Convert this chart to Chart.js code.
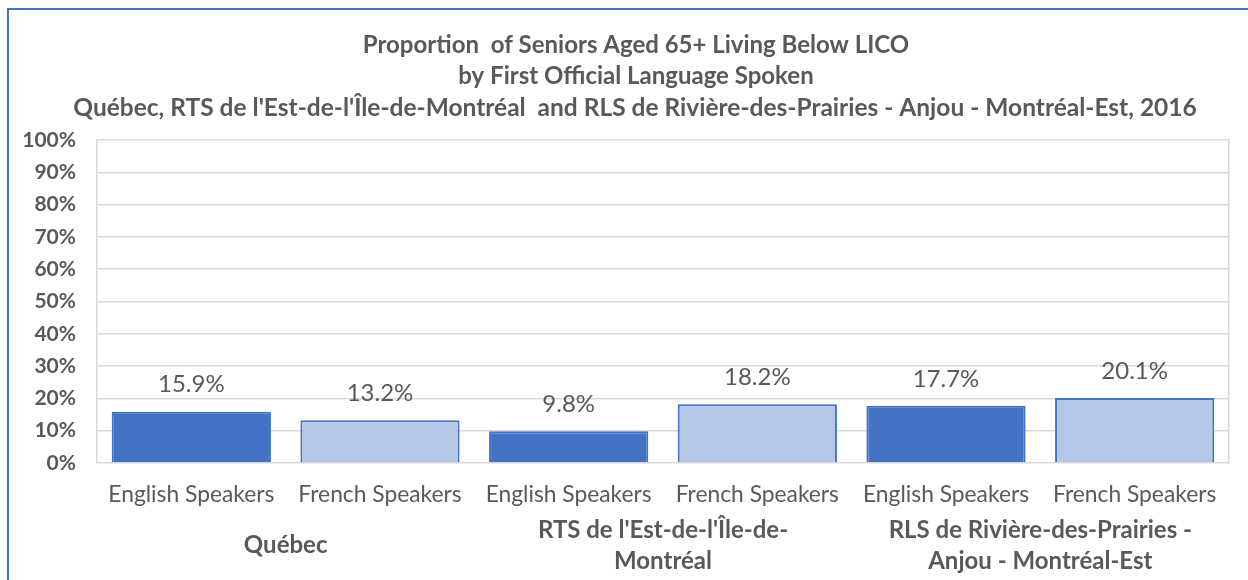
<!DOCTYPE html>
<html>
<head>
<meta charset="utf-8">
<script src="https://cdn.jsdelivr.net/npm/chart.js@4.4.1/dist/chart.umd.min.js"></script>
<style>
  html, body { margin: 0; padding: 0; background: #fff; overflow: hidden; }
  #frame { position: absolute; left: 7px; top: 8px; width: 1260px; height: 590px;
           border-left: 2px solid #4472C4; border-top: 2px solid #4472C4; }
  #wrap { position: absolute; left: 0; top: 0; width: 1248px; height: 580px; }
</style>
</head>
<body>
<div id="frame"></div>
<div id="wrap"><canvas id="grafico" width="1248" height="580"></canvas></div>
<script>
const titleLines = [
  'Proportion  of Seniors Aged 65+ Living Below LICO',
  'by First Official Language Spoken',
  "Québec, RTS de l'Est-de-l'Île-de-Montréal  and RLS de Rivière-des-Prairies - Anjou - Montréal-Est, 2016"
];
const categories = ['English Speakers', 'French Speakers', 'English Speakers', 'French Speakers', 'English Speakers', 'French Speakers'];
const groups = [
  ['Québec'],
  ["RTS de l'Est-de-l'Île-de-", 'Montréal'],
  ['RLS de Rivière-des-Prairies -', 'Anjou - Montréal-Est']
];
const values = [15.9, 13.2, 9.8, 18.2, 17.7, 20.1];
const yTicks = [0, 10, 20, 30, 40, 50, 60, 70, 80, 90, 100];

const FONT = 'Lato, "Open Sans", sans-serif';
const TXT = '#595959';
const DARK = '#4472C4';
const LIGHT = '#B4C7E7';

// título, etiquetas de valor e grupos
const extraLabels = {
  id: 'extraLabels',
  afterDatasetsDraw(chart) {
    const ctx = chart.ctx;
    const meta = chart.getDatasetMeta(0);
    ctx.save();
    ctx.fillStyle = TXT;
    ctx.textAlign = 'center';
    ctx.textBaseline = 'middle';

    ctx.font = 'bold 24px ' + FONT;
    ctx.fillText(titleLines[0], 636, 45);
    ctx.fillText(titleLines[1], 636, 76);
    ctx.font = 'bold 24.5px ' + FONT;
    ctx.fillText(titleLines[2], 635, 108);

    ctx.font = '24px ' + FONT;
    meta.data.forEach((bar, i) => {
      ctx.fillText(values[i].toFixed(1) + '%', bar.x, bar.y - 27);
    });

    const xs = chart.scales.x;
    ctx.font = 'bold 24px ' + FONT;
    groups.forEach((g, i) => {
      const cx = (xs.getPixelForValue(i * 2) + xs.getPixelForValue(i * 2 + 1)) / 2;
      if (g.length === 1) {
        ctx.fillText(g[0], cx, 545);
      } else {
        g.forEach((line, j) => ctx.fillText(line, cx, 530 + j * 31));
      }
    });
    ctx.restore();
  }
};

new Chart(document.getElementById('grafico'), {
  type: 'bar',
  data: {
    labels: categories,
    datasets: [{
      data: values,
      backgroundColor: values.map((v, i) => i % 2 === 0 ? DARK : LIGHT),
      borderColor: DARK,
      borderWidth: 2,
      barPercentage: 0.844,
      categoryPercentage: 1
    }]
  },
  options: {
    responsive: false,
    animation: false,
    devicePixelRatio: 1,
    layout: { padding: { left: 0, right: 19, top: 140, bottom: 0 } },
    plugins: {
      legend: { display: false },
      tooltip: { enabled: false },
      title: { display: false }
    },
    scales: {
      x: {
        grid: { display: false },
        border: { display: false },
        ticks: { color: TXT, font: { family: FONT, size: 22.8 }, padding: 10, maxRotation: 0, autoSkip: false },
        afterFit(scale) { scale.height = 117; }
      },
      y: {
        min: 0,
        max: 100,
        afterBuildTicks(scale) { scale.ticks = yTicks.map(v => ({ value: v })); },
        grid: { color: '#D9D9D9', lineWidth: 1.5, drawTicks: false },
        border: { display: true, color: '#D9D9D9', width: 1.5 },
        ticks: {
          color: TXT,
          font: { family: FONT, size: 21, weight: 'bold' },
          padding: 21,
          callback: v => v + '%'
        },
        afterFit(scale) { scale.width = 97; }
      },
      y2: {
        position: 'right',
        min: 0,
        max: 100,
        grid: { display: false },
        border: { display: true, color: '#D9D9D9', width: 1.5 },
        ticks: { display: false },
        afterFit(scale) { scale.width = 0; }
      }
    }
  },
  plugins: [extraLabels]
});
</script>
</body>
</html>
